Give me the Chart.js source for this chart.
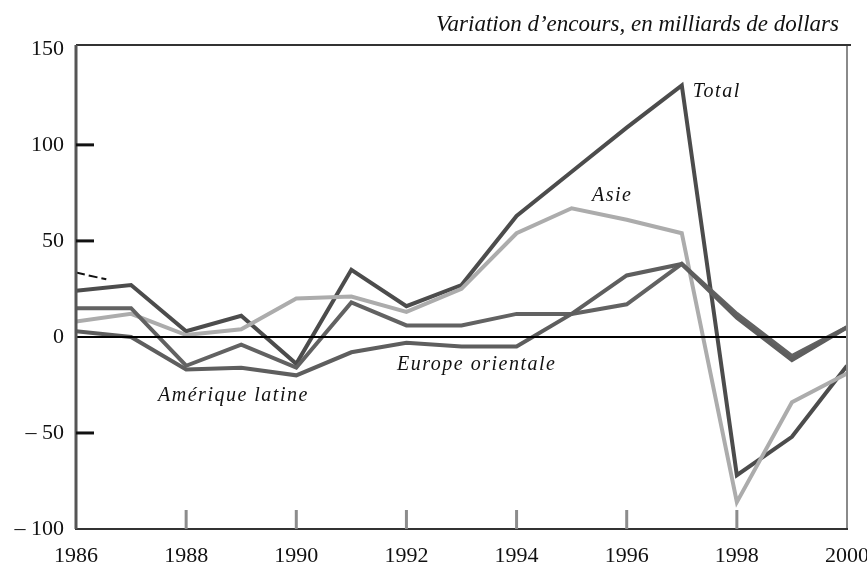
<!DOCTYPE html>
<html>
<head>
<meta charset="utf-8">
<script src="https://cdn.jsdelivr.net/npm/chart.js@4/dist/chart.umd.min.js"></script>
<style>
  html, body { margin: 0; padding: 0; background: #fff; }
  canvas { display: block; }
</style>
</head>
<body>
<canvas id="chart" width="867" height="571"></canvas>
<script>
// Data (milliards de dollars)
const years = [1986, 1987, 1988, 1989, 1990, 1991, 1992, 1993, 1994, 1995, 1996, 1997, 1998, 1999, 2000];
const total = [24, 27, 3, 11, -14, 35, 16, 27, 63, 86, 109, 131, -72, -52, -15];
const asie = [8, 12, 1, 4, 20, 21, 13, 25, 54, 67, 61, 54, -86, -34, -19];
const ameriqueLatine = [15, 15, -15, -4, -16, 18, 6, 6, 12, 12, 17, 38, 12, -10, 5];
const europeOrientale = [3, 0, -17, -16, -20, -8, -3, -5, -5, 12, 32, 38, 10, -12, 5];
// short dashed stroke at the top-left
const dashYears = [1986, 1986.55];
const dashValues = [33.5, 30];

const yTicks = [-100, -50, 0, 50, 100, 150];
const xTicks = [1986, 1988, 1990, 1992, 1994, 1996, 1998, 2000];
const innerXTicks = [1988, 1990, 1992, 1994, 1996, 1998];
const innerYTicks = [-50, 50, 100];

const title = 'Variation d\u2019encours, en milliards de dollars';
// series labels, placed in data coordinates
const seriesLabels = [
  { text: 'Total', x: 1997.2, y: 125 },
  { text: 'Asie', x: 1995.37, y: 71 },
  { text: 'Europe orientale', x: 1991.83, y: -17 },
  { text: 'Am\u00e9rique latine', x: 1987.49, y: -33.5 }
];

function pts(xs, ys) {
  return xs.map((x, i) => ({ x: x, y: ys[i] }));
}

const serif = '"Liberation Serif", "Times New Roman", Times, serif';

// frame, zero line, inner tick marks and text
const decorations = {
  id: 'decorations',
  afterDatasetsDraw(chart) {
    const ctx = chart.ctx;
    const a = chart.chartArea;
    const xs = chart.scales.x;
    const ys = chart.scales.y;
    ctx.save();

    // zero line
    ctx.strokeStyle = '#000';
    ctx.lineWidth = 2;
    ctx.beginPath();
    ctx.moveTo(a.left, ys.getPixelForValue(0));
    ctx.lineTo(a.right, ys.getPixelForValue(0));
    ctx.stroke();

    // right edge (light)
    ctx.strokeStyle = '#8a8a8a';
    ctx.lineWidth = 2;
    ctx.beginPath();
    ctx.moveTo(a.right, a.top);
    ctx.lineTo(a.right, a.bottom);
    ctx.stroke();

    // top, left, bottom
    ctx.strokeStyle = '#333';
    ctx.lineWidth = 2;
    ctx.beginPath();
    ctx.moveTo(a.right + 4, a.top);
    ctx.lineTo(a.left, a.top);
    ctx.moveTo(a.left, a.top);
    ctx.lineTo(a.left, a.bottom);
    ctx.lineTo(a.right + 1, a.bottom);
    ctx.stroke();
    ctx.strokeStyle = '#555';
    ctx.lineWidth = 3;
    ctx.beginPath();
    ctx.moveTo(a.left, a.top);
    ctx.lineTo(a.left, a.bottom);
    ctx.stroke();

    // inner tick marks
    ctx.strokeStyle = '#111';
    ctx.lineWidth = 3;
    innerYTicks.forEach(v => {
      const y = ys.getPixelForValue(v);
      ctx.beginPath();
      ctx.moveTo(a.left, y);
      ctx.lineTo(a.left + 18, y);
      ctx.stroke();
    });
    ctx.strokeStyle = '#8c8c8c';
    innerXTicks.forEach(v => {
      const x = xs.getPixelForValue(v);
      ctx.beginPath();
      ctx.moveTo(x, a.bottom);
      ctx.lineTo(x, a.bottom - 19);
      ctx.stroke();
    });

    // series labels
    ctx.fillStyle = '#111';
    ctx.font = 'italic 20px ' + serif;
    ctx.textAlign = 'left';
    ctx.textBaseline = 'alphabetic';
    ctx.letterSpacing = '1.5px';
    seriesLabels.forEach(l => {
      ctx.fillText(l.text, xs.getPixelForValue(l.x), ys.getPixelForValue(l.y));
    });

    // title
    ctx.letterSpacing = '0px';
    ctx.font = 'italic 23px ' + serif;
    ctx.textAlign = 'right';
    ctx.fillText(title, 839, 31);
    ctx.restore();
  }
};

const line = (data, color, width) => ({
  data: data,
  borderColor: color,
  borderWidth: width,
  pointRadius: 0,
  tension: 0,
  fill: false
});

const dash = line(pts(dashYears, dashValues), '#111', 2);
dash.borderDash = [9, 4];

new Chart(document.getElementById('chart'), {
  type: 'line',
  data: {
    datasets: [
      line(pts(years, europeOrientale), '#5e5e5e', 4),
      line(pts(years, ameriqueLatine), '#626262', 4),
      line(pts(years, asie), '#acacac', 4),
      line(pts(years, total), '#4c4c4c', 4),
      dash
    ]
  },
  options: {
    responsive: false,
    animation: false,
    devicePixelRatio: 1,
    layout: { padding: { top: 45, right: 20, left: 0, bottom: 0 } },
    plugins: {
      legend: { display: false },
      tooltip: { enabled: false }
    },
    scales: {
      x: {
        type: 'linear',
        min: 1986,
        max: 2000,
        grid: { display: false, drawTicks: false },
        border: { display: false },
        afterBuildTicks: s => { s.ticks = xTicks.map(v => ({ value: v })); },
        afterFit: s => { s.height = 42; s.paddingLeft = 0; s.paddingRight = 0; },
        ticks: {
          autoSkip: false,
          maxRotation: 0,
          padding: 14,
          color: '#111',
          font: { family: serif, size: 22 },
          callback: v => String(v)
        }
      },
      y: {
        min: -100,
        max: 152,
        grid: { display: false, drawTicks: false },
        border: { display: false },
        afterBuildTicks: s => { s.ticks = yTicks.map(v => ({ value: v })); },
        afterFit: s => { s.width = 76; s.paddingTop = 0; s.paddingBottom = 0; },
        ticks: {
          padding: 12,
          color: '#111',
          font: { family: serif, size: 22 },
          callback: v => v < 0 ? '\u2013 ' + Math.abs(v) : String(v)
        }
      }
    }
  },
  plugins: [decorations]
});
</script>
</body>
</html>
